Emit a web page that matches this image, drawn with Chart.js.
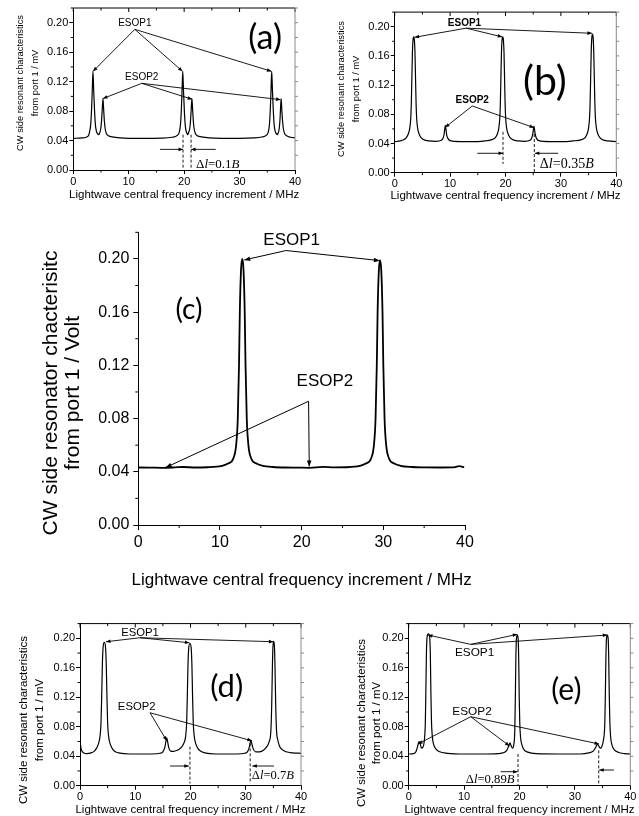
<!DOCTYPE html>
<html>
<head>
<meta charset="utf-8">
<script src="https://cdn.jsdelivr.net/npm/chart.js@4.4.0/dist/chart.umd.min.js"></script>
<style>
  body { margin: 0; background: #fff; width: 639px; height: 816px; position: relative; overflow: hidden; }
  canvas { position: absolute; }
</style>
</head>
<body>
<canvas id="ca" width="318" height="205" style="left:0;top:0"></canvas>
<canvas id="cb" width="321" height="205" style="left:318px;top:0"></canvas>
<canvas id="cc" width="639" height="395" style="left:0;top:205px"></canvas>
<canvas id="cd" width="318" height="216" style="left:0;top:600px"></canvas>
<canvas id="ce" width="321" height="216" style="left:318px;top:600px"></canvas>
<script>
// tick values shared by every panel
const xTicks = [0, 10, 20, 30, 40];
const yTicks = [0, 0.04, 0.08, 0.12, 0.16, 0.20];

// traces: [frequency increment MHz, signal]
const traceA = [
  [0,0.0430],[1.5,0.0435],[2.3,0.0445],[2.75,0.047],[2.95,0.052],[3.15,0.063],[3.3,0.083],[3.42,0.108],
  [3.55,0.134],[3.68,0.108],[3.82,0.083],[3.97,0.063],[4.15,0.053],[4.4,0.049],[4.55,0.048],[4.75,0.050],
  [4.95,0.056],[5.1,0.067],[5.22,0.082],[5.35,0.097],[5.48,0.082],[5.6,0.067],[5.75,0.056],[5.95,0.050],
  [6.35,0.0465],[7.0,0.045],[8.5,0.0437],[12,0.0430],[16,0.0433],[17.8,0.0445],[18.75,0.047],[19.15,0.052],
  [19.35,0.063],[19.5,0.083],[19.62,0.108],[19.75,0.134],[19.88,0.108],[20.02,0.083],[20.17,0.063],
  [20.35,0.053],[20.55,0.049],[20.65,0.048],[20.8,0.051],[21.0,0.056],[21.15,0.067],[21.27,0.082],
  [21.4,0.097],[21.53,0.082],[21.65,0.067],[21.8,0.056],[22.0,0.050],[22.4,0.0465],[23.1,0.045],
  [24.5,0.0437],[30,0.0430],[32.5,0.0435],[34,0.0448],[34.8,0.047],[35.2,0.052],[35.4,0.063],[35.55,0.083],
  [35.67,0.108],[35.8,0.134],[35.93,0.108],[36.07,0.083],[36.22,0.063],[36.4,0.053],[36.65,0.049],
  [36.8,0.048],[36.95,0.050],[37.15,0.056],[37.28,0.067],[37.38,0.082],[37.5,0.097],[37.62,0.082],
  [37.75,0.067],[37.9,0.056],[38.1,0.050],[38.5,0.0465],[39.2,0.0445],[40,0.0438]
];
const traceB = [
  [0,0.0425],[1.0,0.0435],[1.6,0.045],[2.1,0.048],[2.45,0.053],[2.7,0.060],[2.9,0.075],[3.0,0.095],
  [3.1,0.130],[3.2,0.165],[3.3,0.181],[3.43,0.186],[3.56,0.181],[3.66,0.165],[3.76,0.130],[3.86,0.095],
  [3.96,0.075],[4.16,0.060],[4.41,0.053],[4.76,0.048],[5.3,0.045],[6.2,0.0435],[7.5,0.043],[8.3,0.044],
  [8.7,0.047],[8.9,0.052],[9.02,0.059],[9.14,0.065],[9.26,0.059],[9.38,0.052],[9.6,0.047],[10.0,0.044],
  [12,0.0427],[15,0.0427],[16.5,0.0438],[17.37,0.045],[18.17,0.048],[18.52,0.053],[18.77,0.060],
  [18.97,0.075],[19.07,0.095],[19.17,0.130],[19.27,0.165],[19.37,0.181],[19.5,0.186],[19.63,0.181],
  [19.73,0.165],[19.83,0.130],[19.93,0.095],[20.03,0.075],[20.23,0.060],[20.48,0.053],[20.83,0.048],
  [21.37,0.045],[22.3,0.0435],[23.5,0.043],[24.3,0.044],[24.7,0.047],[24.9,0.052],[25.02,0.058],
  [25.14,0.064],[25.26,0.058],[25.38,0.052],[25.6,0.047],[26.0,0.044],[28,0.0427],[31,0.0427],
  [32.5,0.0438],[33.57,0.045],[34.37,0.048],[34.72,0.053],[34.97,0.060],[35.17,0.075],[35.27,0.095],
  [35.37,0.130],[35.47,0.165],[35.57,0.184],[35.7,0.190],[35.83,0.184],[35.93,0.165],[36.03,0.130],
  [36.13,0.095],[36.23,0.075],[36.43,0.060],[36.68,0.053],[37.03,0.048],[37.57,0.045],[38.5,0.0435],
  [40,0.0427]
];
const traceC = [
  [0,0.0432],[1.5,0.0431],[3,0.0430],[4.5,0.0433],[5.5,0.0436],[7,0.0432],[8.5,0.0434],[9.6,0.0438],
  [10.23,0.0445],[10.93,0.046],[11.63,0.050],[11.98,0.060],[12.18,0.080],[12.33,0.120],[12.43,0.160],
  [12.58,0.192],[12.73,0.200],[12.88,0.192],[13.03,0.160],[13.13,0.120],[13.28,0.080],[13.48,0.060],
  [13.83,0.050],[14.53,0.046],[15.23,0.0445],[16.5,0.0436],[18,0.0432],[19.5,0.0431],[21,0.0430],
  [22.6,0.0437],[24,0.0433],[25.5,0.0434],[26.5,0.0438],[27.1,0.0445],[27.8,0.046],[28.5,0.050],
  [28.85,0.060],[29.05,0.080],[29.2,0.120],[29.3,0.160],[29.45,0.191],[29.6,0.199],[29.75,0.191],
  [29.9,0.160],[30.0,0.120],[30.15,0.080],[30.35,0.060],[30.7,0.050],[31.4,0.046],[32.1,0.0445],
  [33.5,0.0436],[35,0.0433],[37,0.0432],[38.5,0.0433],[39.3,0.0442],[39.9,0.0434]
];
const traceD = [
  [0,0.063],[0.15,0.052],[0.35,0.047],[0.7,0.0445],[1.2,0.0435],[2.0,0.0445],[2.6,0.047],[3.0,0.051],
  [3.35,0.057],[3.6,0.066],[3.8,0.085],[3.92,0.120],[4.05,0.165],[4.18,0.188],[4.4,0.1946],[4.62,0.188],
  [4.75,0.165],[4.88,0.120],[5.0,0.085],[5.2,0.066],[5.45,0.057],[5.8,0.051],[6.2,0.047],[7,0.0445],
  [9,0.043],[13,0.043],[14.5,0.044],[15.0,0.046],[15.35,0.052],[15.55,0.060],[15.7,0.065],[15.85,0.060],
  [16.05,0.052],[16.4,0.047],[16.9,0.0465],[17.6,0.048],[18.2,0.051],[18.75,0.057],[19.1,0.066],
  [19.3,0.085],[19.42,0.120],[19.55,0.165],[19.68,0.187],[19.9,0.193],[20.12,0.187],[20.25,0.165],
  [20.38,0.120],[20.5,0.085],[20.7,0.066],[20.95,0.057],[21.3,0.051],[21.8,0.047],[22.6,0.0445],
  [24.5,0.043],[28.5,0.043],[29.8,0.044],[30.3,0.046],[30.6,0.051],[30.8,0.058],[30.95,0.062],
  [31.1,0.057],[31.35,0.050],[31.8,0.046],[32.5,0.046],[33.2,0.048],[33.8,0.053],[34.25,0.060],
  [34.55,0.075],[34.7,0.110],[34.82,0.160],[34.92,0.188],[35.06,0.196],[35.2,0.188],[35.3,0.160],
  [35.42,0.110],[35.57,0.075],[35.8,0.062],[36.1,0.054],[36.6,0.049],[37.3,0.046],[38.5,0.0445],[40,0.044]
];
const traceE = [
  [0,0.043],[0.8,0.0435],[1.3,0.046],[1.6,0.053],[1.85,0.060],[2.05,0.058],[2.3,0.051],[2.55,0.052],
  [2.8,0.060],[3.0,0.085],[3.1,0.130],[3.2,0.180],[3.32,0.202],[3.55,0.206],[3.78,0.202],[3.9,0.180],
  [4.0,0.130],[4.1,0.090],[4.25,0.068],[4.5,0.056],[4.9,0.050],[5.6,0.046],[7,0.044],[10,0.043],
  [14,0.043],[16,0.0435],[17.2,0.045],[17.7,0.048],[18.05,0.054],[18.3,0.058],[18.5,0.054],[18.75,0.051],
  [18.95,0.055],[19.15,0.075],[19.25,0.120],[19.35,0.175],[19.45,0.200],[19.6,0.2045],[19.75,0.200],
  [19.85,0.175],[19.95,0.120],[20.05,0.085],[20.2,0.065],[20.45,0.055],[20.8,0.049],[21.5,0.0455],
  [23,0.0435],[27,0.043],[31,0.043],[32.5,0.0445],[33.3,0.047],[33.75,0.052],[34.05,0.0565],[34.3,0.054],
  [34.55,0.051],[34.85,0.053],[35.15,0.062],[35.4,0.085],[35.5,0.125],[35.6,0.175],[35.7,0.200],
  [35.85,0.2045],[36.0,0.200],[36.1,0.175],[36.2,0.125],[36.3,0.088],[36.45,0.066],[36.7,0.055],
  [37.1,0.049],[37.8,0.0455],[39,0.0435],[40,0.043]
];

const SANS = "'Liberation Sans', Arial, sans-serif";
const SERIF = "'Liberation Serif', 'Times New Roman', serif";
const LABELFONT = "Lato, 'Open Sans', sans-serif";

const yTitleSmall = ['CW side resonant characteristics', 'from port 1 / mV'];
const xTitle = 'Lightwave central frequency increment / MHz';

const panels = [
  {
    id: 'ca', data: traceA, box: {x: 0, y: 0, w: 318, h: 205}, plot: {l: 73.3, t: 8, r: 295, b: 170},
    small: true, tickSize: 11, lw: 1.2,
    yTitle: {lines: yTitleSmall, size: 9.3, x1: 20, x2: 35, cy: 83}, xTitle: {size: 11.5, cy: 195},
    labels: [{t: 'ESOP1', x: 11.1, y: 0.199, size: 10}, {t: 'ESOP2', x: 12.35, y: 0.126, size: 10}],
    fans: [
      {from: [11.1, 0.191], to: [[3.56, 0.134], [19.7, 0.134], [35.75, 0.134]]},
      {from: [12.35, 0.1177], to: [[5.35, 0.097], [21.45, 0.096], [37.4, 0.0955]]}
    ],
    dashed: [[19.8, 0.048, 0.003], [21.25, 0.048, 0.003]],
    harrows: [[15.65, 19.8, 0.028], [25.7, 21.25, 0.028]],
    delta: {parts: ['Δ', 'l', '=0.1', 'B'], x: 22.15, y: 0.008, size: 13, align: 'left'},
    tag: {t: '(a)', x: 34.6, y: 0.179, size: 34}
  },
  {
    id: 'cb', data: traceB, box: {x: 318, y: 0, w: 321, h: 205}, plot: {l: 394.7, t: 12.1, r: 616.3, b: 172.7},
    small: true, tickSize: 11, lw: 1.2,
    yTitle: {lines: yTitleSmall, size: 9.3, x1: 341.3, x2: 356, cy: 89}, xTitle: {size: 11.5, cy: 196},
    labels: [{t: 'ESOP1', x: 12.6, y: 0.2047, size: 10, bold: true}, {t: 'ESOP2', x: 14.0, y: 0.0996, size: 10, bold: true}],
    fans: [
      {from: [12.9, 0.198], to: [[3.6, 0.1855], [19.4, 0.186], [35.6, 0.191]]},
      {from: [14.0, 0.0914], to: [[9.1, 0.062], [25.15, 0.0617]]}
    ],
    dashed: [[19.55, 0.056, 0.012], [25.2, 0.053, 0.0]],
    harrows: [[14.9, 19.55, 0.0266], [29.5, 25.3, 0.0266]],
    delta: {parts: ['Δ', 'l', '=0.35', 'B'], x: 26.2, y: 0.012, size: 14, align: 'left'},
    tag: {t: '(b)', x: 27.1, y: 0.1247, size: 41}
  },
  {
    id: 'cc', data: traceC, box: {x: 0, y: 205, w: 639, h: 395}, plot: {l: 138.3, t: 232.3, r: 465, b: 525},
    small: false, tickSize: 16, lw: 1.8,
    yTitle: {lines: ['CW side resonator chacterisitc', 'from port 1 / Volt'], size: 21, x1: 51.7, x2: 73.3, cy: 393},
    xTitle: {size: 17, cy: 580},
    labels: [{t: 'ESOP1', x: 18.78, y: 0.2138, size: 17}, {t: 'ESOP2', x: 22.85, y: 0.108, size: 17}],
    fans: [
      {from: [18.1, 0.2063], to: [[12.97, 0.1992], [29.58, 0.1987]]},
      {from: [20.85, 0.093], to: [[3.35, 0.0432], [20.93, 0.044]]}
    ],
    dashed: [], harrows: [], delta: null,
    tag: {t: '(c)', x: 6.2, y: 0.1615, size: 28}
  },
  {
    id: 'cd', data: traceD, box: {x: 0, y: 600, w: 318, h: 216}, plot: {l: 80, t: 623.6, r: 301, b: 785.7},
    small: true, tickSize: 11, lw: 1.2,
    yTitle: {lines: yTitleSmall, size: 11.5, x1: 24, x2: 39.5, cy: 720}, xTitle: {size: 11.5, cy: 810},
    labels: [{t: 'ESOP1', x: 10.86, y: 0.2076, size: 11.3}, {t: 'ESOP2', x: 10.26, y: 0.1072, size: 11.3}],
    fans: [
      {from: [10.86, 0.2008], to: [[4.7, 0.1954], [19.8, 0.194], [35.0, 0.1954]]},
      {from: [12.67, 0.099], to: [[15.7, 0.061], [31.1, 0.061]]}
    ],
    dashed: [[19.9, 0.053, 0.003], [30.8, 0.0575, 0.003]],
    harrows: [[16.3, 19.7, 0.0267], [35.1, 31.2, 0.0267]],
    delta: {parts: ['Δ', 'l', '=0.7', 'B'], x: 31.1, y: 0.014, size: 12.6, align: 'left'},
    tag: {t: '(d)', x: 26.55, y: 0.134, size: 31}
  },
  {
    id: 'ce', data: traceE, box: {x: 318, y: 600, w: 321, h: 216}, plot: {l: 408.7, t: 623.6, r: 630.3, b: 785.7},
    small: true, tickSize: 11, lw: 1.2,
    yTitle: {lines: yTitleSmall, size: 11.5, x1: 362, x2: 377, cy: 723}, xTitle: {size: 11.5, cy: 810},
    labels: [{t: 'ESOP1', x: 11.9, y: 0.1805, size: 11.8}, {t: 'ESOP2', x: 11.43, y: 0.1004, size: 11.8}],
    fans: [
      {from: [11.2, 0.1918], to: [[3.48, 0.2045], [19.6, 0.2054], [35.85, 0.2045]]},
      {from: [11.2, 0.0936], to: [[1.68, 0.0566], [18.2, 0.0539], [34.35, 0.0566]]}
    ],
    dashed: [[19.73, 0.043, 0.0], [34.3, 0.048, 0.0]],
    harrows: [[16.6, 19.65, 0.019], [37.05, 34.4, 0.0213]],
    delta: {parts: ['Δ', 'l', '=0.89', 'B'], x: 19.1, y: 0.0077, size: 12.7, align: 'right'},
    tag: {t: '(e)', x: 28.45, y: 0.13, size: 30}
  }
];

function arrow(ctx, x1, y1, x2, y2, len, half) {
  ctx.beginPath();
  ctx.moveTo(x1, y1);
  ctx.lineTo(x2, y2);
  ctx.stroke();
  const a = Math.atan2(y2 - y1, x2 - x1);
  ctx.beginPath();
  ctx.moveTo(x2, y2);
  ctx.lineTo(x2 - len * Math.cos(a) + half * Math.sin(a), y2 - len * Math.sin(a) - half * Math.cos(a));
  ctx.lineTo(x2 - len * Math.cos(a) - half * Math.sin(a), y2 - len * Math.sin(a) + half * Math.cos(a));
  ctx.closePath();
  ctx.fill();
}

function decoPlugin(p) {
  return {
    id: 'deco',
    afterDraw(chart) {
      const {ctx, chartArea: a, scales: {x, y}} = chart;
      const px = v => x.getPixelForValue(v);
      const py = v => y.getPixelForValue(v);
      const ox = p.box.x, oy = p.box.y;
      ctx.save();
      ctx.strokeStyle = '#000';
      ctx.fillStyle = '#000';
      ctx.lineWidth = 1;

      // minor ticks (library draws the major ones)
      const mlen = p.small ? 2.5 : 3;
      ctx.beginPath();
      [5, 15, 25, 35].forEach(v => { ctx.moveTo(px(v), a.bottom); ctx.lineTo(px(v), a.bottom + mlen); });
      [0.02, 0.06, 0.10, 0.14, 0.18, 0.22].forEach(v => { ctx.moveTo(a.left, py(v)); ctx.lineTo(a.left - mlen, py(v)); });
      ctx.stroke();

      if (p.small) {
        // top axis, black with inward ticks
        ctx.beginPath();
        ctx.moveTo(a.left, a.top); ctx.lineTo(a.right, a.top);
        [0, 10, 20, 30, 40].forEach(v => { ctx.moveTo(px(v), a.top); ctx.lineTo(px(v), a.top + 4); });
        [5, 15, 25, 35].forEach(v => { ctx.moveTo(px(v), a.top); ctx.lineTo(px(v), a.top + 2.5); });
        ctx.stroke();
        // right axis, grey with small ticks
        ctx.strokeStyle = '#8a8a8a';
        ctx.beginPath();
        ctx.moveTo(a.right, a.top); ctx.lineTo(a.right, a.bottom);
        for (let k = 1; k <= 11; k++) { const v = k * 0.02; ctx.moveTo(a.right, py(v)); ctx.lineTo(a.right + 3, py(v)); }
        ctx.stroke();
        ctx.strokeStyle = '#000';
      }

      // axis titles
      ctx.textAlign = 'center';
      ctx.textBaseline = 'middle';
      ctx.font = p.yTitle.size + 'px ' + SANS;
      [p.yTitle.x1, p.yTitle.x2].forEach((tx, i) => {
        ctx.save();
        ctx.translate(tx - ox, p.yTitle.cy - oy);
        ctx.rotate(-Math.PI / 2);
        ctx.fillText(p.yTitle.lines[i], 0, 0);
        ctx.restore();
      });
      ctx.font = p.xTitle.size + 'px ' + SANS;
      ctx.fillText(xTitle, (a.left + a.right) / 2, p.xTitle.cy - oy);

      // ESOP labels
      p.labels.forEach(l => {
        ctx.font = (l.bold ? 'bold ' : '') + l.size + 'px ' + SANS;
        ctx.fillText(l.t, px(l.x), py(l.y));
      });

      // pointer lines
      ctx.lineWidth = p.small ? 0.9 : 1;
      const hl = p.small ? 4.5 : 6, hw = p.small ? 1.8 : 2.3;
      p.fans.forEach(f => {
        f.to.forEach(t => arrow(ctx, px(f.from[0]), py(f.from[1]), px(t[0]), py(t[1]), hl, hw));
      });

      // dashed markers and spacing arrows
      ctx.setLineDash([3, 2]);
      ctx.beginPath();
      p.dashed.forEach(d => { ctx.moveTo(px(d[0]), py(d[1])); ctx.lineTo(px(d[0]), py(d[2])); });
      ctx.stroke();
      ctx.setLineDash([]);
      p.harrows.forEach(h => arrow(ctx, px(h[0]), py(h[2]), px(h[1]), py(h[2]), 4.5, 1.8));

      if (p.delta) {
        const d = p.delta;
        const fonts = [d.size + 'px ' + SERIF, 'italic ' + d.size + 'px ' + SERIF, d.size + 'px ' + SERIF, 'italic ' + d.size + 'px ' + SERIF];
        let w = 0;
        d.parts.forEach((s, i) => { ctx.font = fonts[i]; w += ctx.measureText(s).width; });
        let cx = d.align === 'right' ? px(d.x) - w : px(d.x);
        ctx.textAlign = 'left';
        d.parts.forEach((s, i) => { ctx.font = fonts[i]; ctx.fillText(s, cx, py(d.y)); cx += ctx.measureText(s).width; });
      }

      // panel tag
      ctx.textAlign = 'center';
      ctx.font = p.tag.size + 'px ' + LABELFONT;
      ctx.fillText(p.tag.t, px(p.tag.x), py(p.tag.y));
      ctx.restore();
    }
  };
}

panels.forEach(p => {
  const left = p.plot.l - p.box.x;
  const top = p.plot.t - p.box.y;
  const right = p.box.x + p.box.w - p.plot.r;
  const xH = p.box.y + p.box.h - p.plot.b;
  const tickLen = p.small ? 4 : 5;
  const font = {family: SANS, size: p.tickSize};
  new Chart(document.getElementById(p.id), {
    type: 'line',
    data: {
      datasets: [{
        data: p.data.map(d => ({x: d[0], y: d[1]})),
        borderColor: '#000',
        borderWidth: p.lw,
        pointRadius: 0,
        cubicInterpolationMode: 'monotone',
        fill: false
      }]
    },
    options: {
      responsive: false,
      animation: false,
      layout: {padding: {left: 0, top: top, right: right, bottom: 0}},
      plugins: {legend: {display: false}, tooltip: {enabled: false}},
      scales: {
        x: {
          type: 'linear', min: 0, max: 40,
          afterBuildTicks: s => { s.ticks = xTicks.map(v => ({value: v})); },
          afterFit: s => { s.height = xH; },
          grid: {drawOnChartArea: false, drawTicks: true, tickLength: tickLen, tickColor: '#000'},
          border: {display: true, color: '#000', width: 1},
          ticks: {color: '#000', font: font, padding: p.small ? 1 : 3, maxRotation: 0}
        },
        y: {
          type: 'linear', min: 0, max: 0.22,
          afterBuildTicks: s => { s.ticks = yTicks.map(v => ({value: v})); },
          afterFit: s => { s.width = left; },
          grid: {drawOnChartArea: false, drawTicks: true, tickLength: tickLen, tickColor: '#000'},
          border: {display: true, color: '#000', width: 1},
          ticks: {color: '#000', font: font, padding: p.small ? 1 : 4, callback: v => v.toFixed(2)}
        }
      }
    },
    plugins: [decoPlugin(p)]
  });
});
</script>
</body>
</html>
